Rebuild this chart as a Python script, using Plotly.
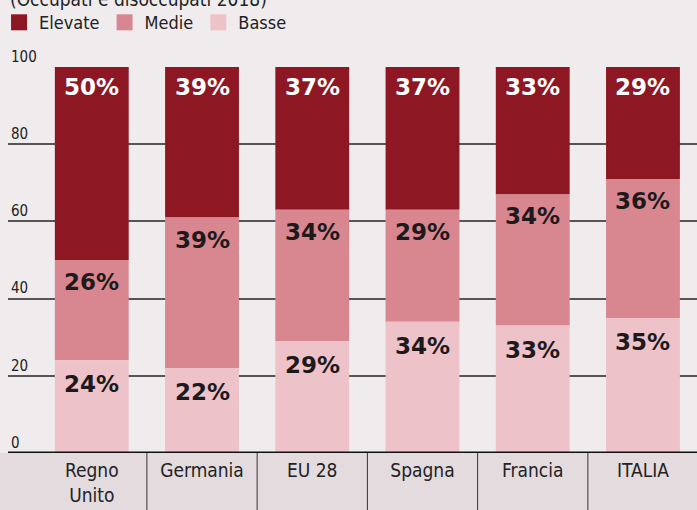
import plotly.graph_objects as go

categories = ["Regno<br>Unito", "Germania", "EU 28", "Spagna", "Francia", "ITALIA"]
basse = [24, 22, 29, 34, 33, 35]
medie = [26, 39, 34, 29, 34, 36]
elevate = [50, 39, 37, 37, 33, 29]
series_names = ["Elevate", "Medie", "Basse"]
y_ticks = [0, 20, 40, 60, 80, 100]

C_EL = "#8d1824"
C_ME = "#d8868f"
C_BA = "#edc2c8"
BG = "#f0ecee"
BAND = "#e3dbde"
NARROW = "Liberation Sans Narrow, DejaVu Sans Condensed, Arial Narrow, sans-serif"
PCT = "DejaVu Sans, Verdana, sans-serif"

fig = go.Figure()
fig.add_trace(go.Bar(x=categories, y=elevate, name="Elevate", marker_color=C_EL, showlegend=False,
                     base=[b + m for b, m in zip(basse, medie)], width=0.67, marker_line_width=0))
fig.add_trace(go.Bar(x=categories, y=medie, name="Medie", marker_color=C_ME, showlegend=False,
                     base=basse, width=0.67, marker_line_width=0))
fig.add_trace(go.Bar(x=categories, y=basse, name="Basse", marker_color=C_BA, showlegend=False,
                     base=[0] * len(basse), width=0.67, marker_line_width=0))
# legend entries (large square swatches)
for name, col in zip(series_names, [C_EL, C_ME, C_BA]):
    fig.add_trace(go.Scatter(x=[None], y=[None], mode="markers", name=name,
                             marker=dict(symbol="square", size=18, color=col, line_width=0)))

annotations = []
for i, c in enumerate(categories):
    tops = [(basse[i], basse[i], "#1e1a1b", -24),
            (basse[i] + medie[i], medie[i], "#1e1a1b", -22),
            (basse[i] + medie[i] + elevate[i], elevate[i], "#ffffff", -20)]
    for top, v, col, sh in tops:
        annotations.append(dict(x=c, y=top, xref="x", yref="y", text=f"{v}%",
                                showarrow=False, yanchor="middle", yshift=sh,
                                font=dict(family=PCT, size=23, color=col, weight="bold")))

annotations.append(dict(x=0, y=1.142, xref="paper", yref="paper", xanchor="left", yanchor="bottom",
                        text="(Occupati e disoccupati 2018)", showarrow=False,
                        font=dict(family=NARROW, size=19, color="#222")))

shapes = [dict(type="rect", xref="paper", yref="paper", x0=-0.02, x1=1.01, y0=-0.16, y1=0,
               fillcolor=BAND, line_width=0, layer="below")]
for k in range(len(categories) - 1):
    shapes.append(dict(type="line", xref="x", yref="paper", x0=k + 0.5, x1=k + 0.5,
                       y0=-0.16, y1=0, line=dict(color="#333", width=1)))
shapes.append(dict(type="line", xref="paper", yref="y", x0=0, x1=1, y0=0, y1=0,
                   line=dict(color="#111", width=3)))

fig.update_layout(
    width=697, height=510,
    barmode="overlay",
    paper_bgcolor=BG, plot_bgcolor=BG,
    margin=dict(l=8, r=0, t=67, b=57, autoexpand=False),
    font=dict(family=NARROW, size=17, color="#222"),
    legend=dict(orientation="h", x=-0.013, y=1.115, xanchor="left", yanchor="middle",
                traceorder="normal", font=dict(size=18, color="#222"),
                bgcolor="rgba(0,0,0,0)", itemwidth=30),
    xaxis=dict(range=[-0.76, 5.49], showgrid=False, ticks="", tickfont=dict(size=19, color="#222"),
               showline=False, zeroline=False, fixedrange=True, ticklabelstandoff=4),
    yaxis=dict(range=[0, 100], tickvals=y_ticks, ticklabelposition="inside top",
               ticklabeloverflow="allow", showgrid=True, gridcolor="#555", gridwidth=1.5,
               zeroline=False, tickfont=dict(size=15, color="#222"), showline=False,
               fixedrange=True),
    annotations=annotations, shapes=shapes,
    bargap=0.33,
)
fig.write_html("out.html", config={"displayModeBar": False},
               post_script="document.body.style.margin='0';document.body.style.background='#f0ecee';")
